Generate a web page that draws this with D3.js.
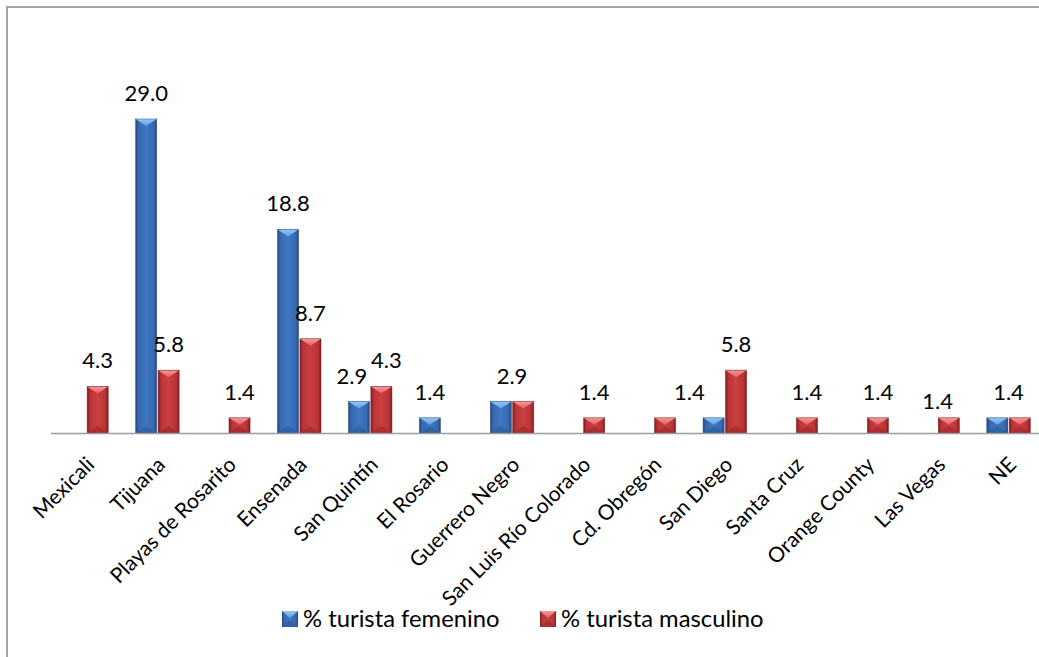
<!DOCTYPE html>
<html><head><meta charset="utf-8">
<script src="https://cdn.jsdelivr.net/npm/d3@7/dist/d3.min.js"></script>
<style>
html,body{margin:0;padding:0;background:#fff;}
svg{display:block;font-family:Lato,"Open Sans",sans-serif;}
</style></head>
<body>
<script>
const categories = ["Mexicali","Tijuana","Playas de Rosarito","Ensenada","San Quintín","El Rosario","Guerrero Negro","San Luis Río Colorado","Cd. Obregón","San Diego","Santa Cruz","Orange County","Las Vegas","NE"];
const seriesNames = ["% turista femenino","% turista masculino"];
const femenino  = [0, 29.0, 0, 18.8, 2.9, 1.4, 2.9, 0, 0, 1.4, 0, 0, 0, 1.4];
const masculino = [4.3, 5.8, 1.4, 8.7, 4.3, 0, 2.9, 1.4, 1.4, 5.8, 1.4, 1.4, 1.4, 1.4];
// data labels shown in the reference: [category, series index, anchor]
const shownLabels = [
  ["Mexicali",1,"bar"],["Tijuana",0,"bar"],["Tijuana",1,"bar"],["Playas de Rosarito",1,"bar"],
  ["Ensenada",0,"bar"],["Ensenada",1,"bar"],["San Quintín",0,"barL"],["San Quintín",1,"barR"],
  ["El Rosario",0,"bar"],["Guerrero Negro",1,"center"],["San Luis Río Colorado",1,"bar"],
  ["Cd. Obregón",1,"bandEnd"],["San Diego",1,"bar"],["Santa Cruz",1,"bar"],
  ["Orange County",1,"bar"],["Las Vegas",1,"centerLow"],["NE",1,"center"]
];

const W = 1039, H = 657;
const svg = d3.select("body").append("svg").attr("width", W).attr("height", H);

const seriesVals = [femenino, masculino];
const x = d3.scaleBand().domain(categories).range([51, 1044]).paddingInner(0).paddingOuter(0);
const groupW = 43.5;
const xs = d3.scaleBand().domain([0,1]).range([0, groupW]).paddingInner(0.06);
const y = d3.scaleLinear().domain([0, 35]).range([433, 54]);

const defs = svg.append("defs");
const palettes = [
  {edge:"#23497f", mid:"#3f78c4", body:"#3769b0", topA:"#92c8f6", topB:"#5f9ee2", bot:"#2e5c9c"},
  {edge:"#7e1c1e", mid:"#cc3f41", body:"#b83436", topA:"#f79a9a", topB:"#e55d5e", bot:"#9f2a2c"}
];
palettes.forEach((p,i)=>{
  const g = defs.append("linearGradient").attr("id","body"+i).attr("x1","0").attr("x2","1").attr("y1","0").attr("y2","0");
  [[0,p.edge],[0.14,p.body],[0.5,p.mid],[0.86,p.body],[1,p.edge]].forEach(s=>g.append("stop").attr("offset",s[0]).attr("stop-color",s[1]));
  const t = defs.append("linearGradient").attr("id","top"+i).attr("x1","0").attr("x2","0").attr("y1","0").attr("y2","1");
  [[0,p.topA],[1,p.topB]].forEach(s=>t.append("stop").attr("offset",s[0]).attr("stop-color",s[1]));
});

// frame
svg.append("rect").attr("x",7).attr("y",7).attr("width",1100).attr("height",700)
  .attr("fill","none").attr("stroke","#a3a3a3").attr("stroke-width",2);

// bars
const bars = [];
categories.forEach((c,ci)=>{
  seriesVals.forEach((vals,si)=>{
    if (vals[ci] > 0) bars.push({c, si, v: vals[ci]});
  });
});
const barG = svg.append("g");
const bw = xs.bandwidth();
const off = (x.bandwidth() - groupW)/2;
bars.forEach(b=>{
  const x0 = x(b.c) + off + xs(b.si);
  const y0 = y(b.v), h = y(0) - y(b.v);
  const d = Math.min(7, h/2);
  const p = palettes[b.si];
  const g = barG.append("g");
  g.append("rect").attr("x",x0).attr("y",y0).attr("width",bw).attr("height",h).attr("fill",`url(#body${b.si})`);
  g.append("path").attr("d",`M${x0},${y0+h}L${x0+bw},${y0+h}L${x0+bw/2},${y0+h-d}Z`).attr("fill",p.bot).attr("opacity",0.7);
  g.append("path").attr("d",`M${x0},${y0}L${x0+bw},${y0}L${x0+bw/2},${y0+d}Z`).attr("fill",`url(#top${b.si})`);
  g.append("rect").attr("x",x0).attr("y",y0).attr("width",bw).attr("height",h).attr("fill","none").attr("stroke",p.edge).attr("stroke-width",0.6).attr("opacity",0.8);
});

// axis line
svg.append("line").attr("x1",51).attr("x2",1044).attr("y1",y(0)+0.5).attr("y2",y(0)+0.5)
  .attr("stroke","#9c9c9c").attr("stroke-width",1.5);

// category labels
svg.append("g").selectAll("text").data(categories).join("text")
  .attr("transform", d=>`translate(${x(d)+x.bandwidth()/2+9},${y(0)+33}) rotate(-45)`)
  .attr("text-anchor","end").attr("font-size",21).attr("fill","#000").text(d=>d);

// data labels
svg.append("g").selectAll("text").data(shownLabels).join("text")
  .attr("x", d=>{
    const base = x(d[0]);
    const bc = base + off + xs(d[1]) + bw/2;
    if (d[2]==="bar") return bc;
    if (d[2]==="barL") return bc - 7;
    if (d[2]==="barR") return bc + 5;
    if (d[2]==="bandEnd") return base + x.bandwidth();
    return base + x.bandwidth()/2;
  })
  .attr("y", d=>{
    const v = seriesVals[d[1]][categories.indexOf(d[0])];
    return y(v) - 18 + (d[2]==="centerLow" ? 9 : 0);
  })
  .attr("text-anchor","middle").attr("font-size",22).attr("fill","#000")
  .text(d=>d3.format(".1f")(seriesVals[d[1]][categories.indexOf(d[0])]));

// legend
const leg = svg.append("g");
const legX = [282, 540];
seriesNames.forEach((s,i)=>{
  const g = leg.append("g").attr("transform",`translate(${legX[i]},611)`);
  const p = palettes[i];
  g.append("rect").attr("width",16).attr("height",16).attr("fill",`url(#body${i})`);
  g.append("path").attr("d","M0,0L16,0L8,7Z").attr("fill",`url(#top${i})`);
  g.append("path").attr("d","M0,16L16,16L8,9Z").attr("fill",p.bot).attr("opacity",0.7);
  g.append("text").attr("x",21).attr("y",16).attr("font-size",23.8).attr("fill","#000").text(s);
});
</script>
</body></html>
